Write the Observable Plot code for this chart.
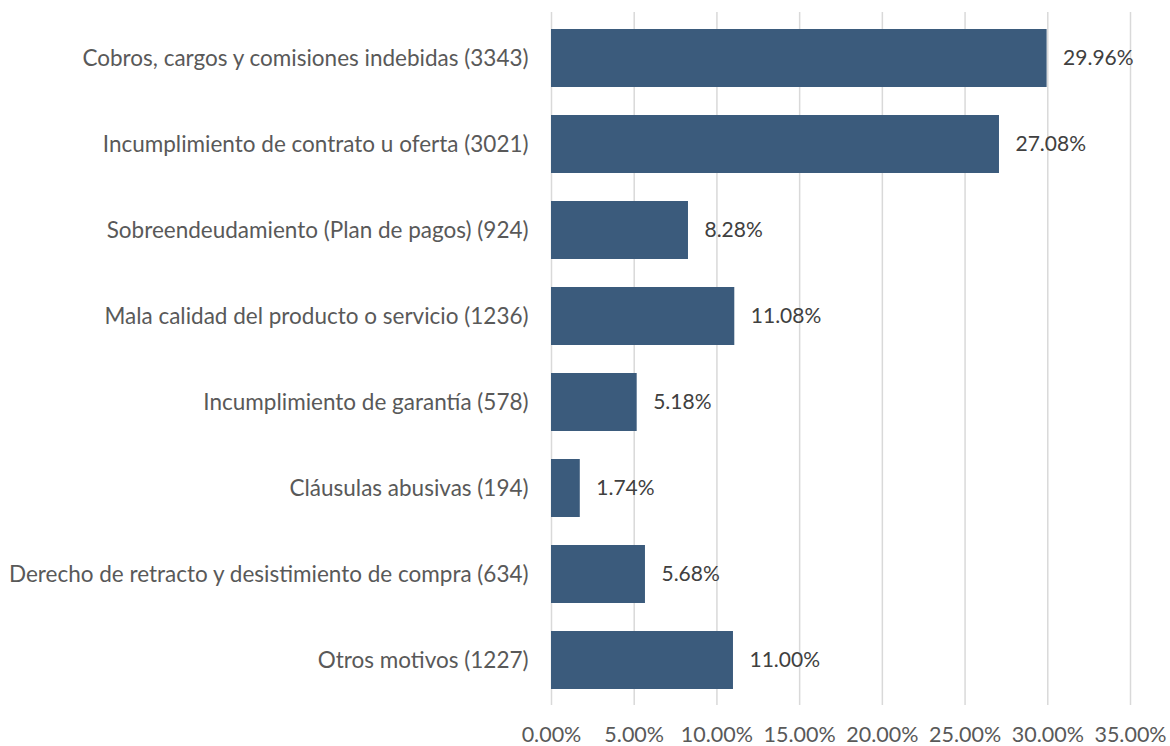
<!DOCTYPE html>
<html>
<head>
<meta charset="utf-8">
<script src="https://cdn.jsdelivr.net/npm/d3@7"></script>
<script src="https://cdn.jsdelivr.net/npm/@observablehq/plot@0.6"></script>
<style>
  html, body { margin: 0; padding: 0; background: #fff; }
  #chart svg { display: block; }
</style>
</head>
<body>
<div id="chart"></div>
<script>
const categories = [
  "Cobros, cargos y comisiones indebidas (3343)",
  "Incumplimiento de contrato u oferta (3021)",
  "Sobreendeudamiento (Plan de pagos) (924)",
  "Mala calidad del producto o servicio (1236)",
  "Incumplimiento de garantía (578)",
  "Cláusulas abusivas (194)",
  "Derecho de retracto y desistimiento de compra (634)",
  "Otros motivos (1227)"
];
const percents = [29.96, 27.08, 8.28, 11.08, 5.18, 1.74, 5.68, 11.00];
const xTicks = [0, 0.05, 0.10, 0.15, 0.20, 0.25, 0.30, 0.35];

const data = categories.map((c, i) => ({category: c, value: percents[i] / 100}));
const fmt = d3.format(".2%");

const chart = Plot.plot({
  width: 1170,
  height: 746,
  marginLeft: 551,
  marginRight: 40,
  marginTop: 12,
  marginBottom: 41,
  style: {fontFamily: "Lato, 'Open Sans', sans-serif", fontSize: "22px", color: "#595959", background: "#fff"},
  x: {domain: [0, 0.35], ticks: xTicks, tickFormat: fmt, label: null},
  y: {domain: categories, label: null, paddingInner: 0.33, paddingOuter: 0.167},
  marks: [
    Plot.gridX(xTicks, {stroke: "#d9d9d9", strokeOpacity: 1, strokeWidth: 1.5}),
    Plot.barX(data, {x: "value", y: "category", fill: "#3b5b7c"}),
    Plot.text(data, {x: "value", y: "category", text: d => fmt(d.value), textAnchor: "start", dx: 16, fill: "#404040", fontSize: 21}),
    Plot.axisX({ticks: xTicks, tickFormat: fmt, tickSize: 0, tickPadding: 21, label: null, fontSize: 21.5, fill: "#595959"}),
    Plot.axisY({tickSize: 0, tickPadding: 23, label: null, fontSize: 22.5, fill: "#595959"})
  ]
});
document.getElementById("chart").appendChild(chart);
</script>
</body>
</html>
